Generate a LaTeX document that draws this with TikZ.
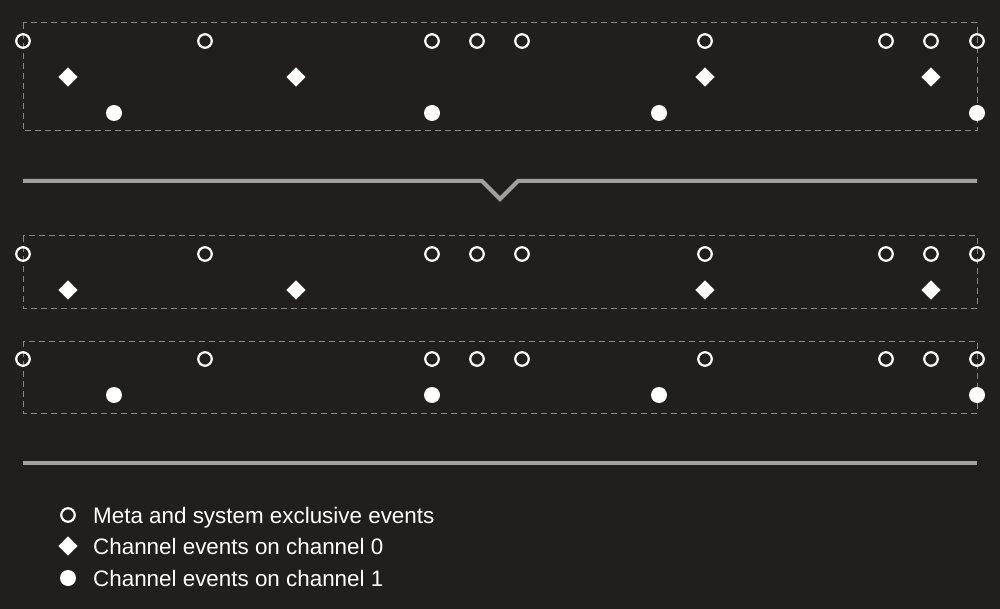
\documentclass[tikz,border=0pt]{standalone}
\usepackage{fontspec}
\setmainfont{Liberation Sans}
\usetikzlibrary{shapes.geometric}

\definecolor{bgdark}{RGB}{32,31,29}
\definecolor{boxgray}{RGB}{135,135,135}
\definecolor{rulegray}{RGB}{160,160,160}

\tikzset{
  metaev/.style={draw=white, line width=2.2pt, circle, minimum size=13.5pt, inner sep=0pt},
  chanzero/.style={fill=white, diamond, minimum size=19.5pt, inner sep=0pt},
  chanone/.style={fill=white, circle, minimum size=16pt, inner sep=0pt},
  trackbox/.style={draw=boxgray, line width=1pt, dash pattern=on 6pt off 4pt},
  mergeline/.style={draw=rulegray, line width=4pt},
  legendtext/.style={anchor=base west, text=white, inner sep=0pt,
    font=\fontsize{22.4}{27}\selectfont}
}

\begin{document}
\begin{tikzpicture}[x=1pt, y=-1pt]
    \fill[bgdark] (0,0) rectangle (1000,609);
    \useasboundingbox (0,0) rectangle (1000,609);

    % dashed track boxes
    \draw[trackbox] (23,23) rectangle (977,131);
    \draw[trackbox] (23,236) rectangle (977,308);
    \draw[trackbox] (23,341) rectangle (977,413);

    % merged track (top)
    \foreach \x [count=\i] in {23,205,432,477,522,705,886,931,977}
        \node[metaev] (am\i) at (\x,41) {};
    \foreach \x [count=\i] in {68,296,705,931}
        \node[chanzero] (az\i) at (\x,77) {};
    \foreach \x [count=\i] in {114,432,659,977}
        \node[chanone] (ao\i) at (\x,113) {};

    % split line with notch
    \coordinate (sl) at (23,181);
    \coordinate (sa) at (482,181);
    \coordinate (sv) at (500,199);
    \coordinate (sb) at (518,181);
    \coordinate (sr) at (977,181);
    \draw[mergeline] (sl) -- (sa) -- (sv) -- (sb) -- (sr);

    % track for channel 0
    \foreach \x [count=\i] in {23,205,432,477,522,705,886,931,977}
        \node[metaev] (bm\i) at (\x,254) {};
    \foreach \x [count=\i] in {68,296,705,931}
        \node[chanzero] (bz\i) at (\x,290) {};

    % track for channel 1
    \foreach \x [count=\i] in {23,205,432,477,522,705,886,931,977}
        \node[metaev] (cm\i) at (\x,359) {};
    \foreach \x [count=\i] in {114,432,659,977}
        \node[chanone] (co\i) at (\x,395) {};

    % bottom line
    \coordinate (el) at (23,463);
    \coordinate (er) at (977,463);
    \draw[mergeline] (el) -- (er);

    % legend
    \node[metaev] (lm) at (68,515) {};
    \node[chanzero] (lz) at (68,546) {};
    \node[chanone] (lo) at (68,578) {};
    \node[legendtext] (tm) at (93,523) {Meta and system exclusive events};
    \node[legendtext] (tz) at (93,554.5) {Channel events on channel 0};
    \node[legendtext] (to) at (93,586) {Channel events on channel 1};
\end{tikzpicture}
\end{document}
